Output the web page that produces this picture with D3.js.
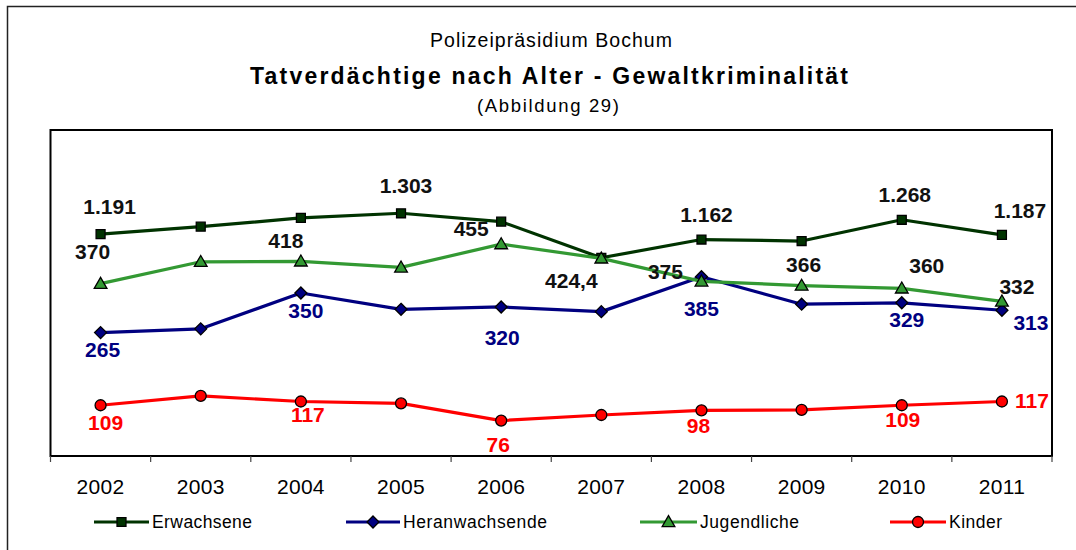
<!DOCTYPE html>
<html>
<head>
<meta charset="utf-8">
<script src="https://cdn.jsdelivr.net/npm/d3@7"></script>
<style>
  body { margin: 0; background: #fff; }
  svg { display: block; font-family: "Liberation Sans", Arial, sans-serif; }
</style>
</head>
<body>
<svg id="chart" width="1076" height="550"></svg>
<script>
// data
const years = ['2002', '2003', '2004', '2005', '2006', '2007', '2008', '2009', '2010', '2011'];
const erwachsene = [1191, 1231, 1278, 1303, 1258, 1064, 1162, 1154, 1268, 1187];
const heranwachsende = [265, 273, 350, 315, 320, 310, 385, 326, 329, 313];
const jugendliche = [370, 417, 418, 405, 455, 424.4, 375, 366, 360, 332];
const kinder = [109, 129, 117, 113, 76, 88, 98, 99, 109, 117];
// which points carry a value label
const erwShown = [0, 3, 6, 8, 9];
const herShown = [0, 2, 4, 6, 8, 9];
const jugShown = [0, 2, 4, 5, 6, 7, 8, 9];
const kinShown = [0, 2, 4, 6, 8, 9];
const seriesNames = ['Erwachsene', 'Heranwachsende', 'Jugendliche', 'Kinder'];

const de = d3.formatLocale({decimal: ',', thousands: '.', grouping: [3], currency: ['', ' €']});
const fmt = de.format(',');

const svg = d3.select('#chart');

// outer frame (right/bottom run off the picture)
svg.append('rect')
    .attr('x', 7.5).attr('y', 6.5)
    .attr('width', 1100).attr('height', 600)
    .attr('fill', 'none').attr('stroke', '#222').attr('stroke-width', 1.5);

// titles
svg.append('text').attr('x', 551).attr('y', 47)
    .attr('text-anchor', 'middle').attr('font-size', 19.5)
    .attr('textLength', 242).attr('lengthAdjust', 'spacing')
    .text('Polizeipräsidium Bochum');
svg.append('text').attr('x', 549).attr('y', 84)
    .attr('text-anchor', 'middle').attr('font-size', 23).attr('font-weight', 'bold')
    .attr('textLength', 598).attr('lengthAdjust', 'spacing')
    .text('Tatverdächtige nach Alter - Gewaltkriminalität');
svg.append('text').attr('x', 548).attr('y', 112)
    .attr('text-anchor', 'middle').attr('font-size', 18.5)
    .attr('textLength', 142).attr('lengthAdjust', 'spacing')
    .text('(Abbildung 29)');

const plotLeft = 50.5, plotRight = 1052, plotTop = 130, plotBottom = 456;

const x = d3.scaleBand().domain(years).range([plotLeft, plotRight]).padding(0);
const cx = d => x(d) + x.bandwidth() / 2;
const y = d3.scaleLinear().domain([0, 700]).range([plotBottom, plotTop]);
const y2 = d3.scaleLinear().domain([0, 1750]).range([plotBottom, plotTop]);

// plot frame
svg.append('rect')
    .attr('x', plotLeft).attr('y', plotTop)
    .attr('width', plotRight - plotLeft).attr('height', plotBottom - plotTop)
    .attr('fill', 'none').attr('stroke', '#000').attr('stroke-width', 2);

// category ticks at band edges
const edges = years.map(d => x(d)).concat([plotRight]);
svg.append('g').selectAll('line')
    .data(edges)
    .join('line')
    .attr('x1', d => d).attr('x2', d => d)
    .attr('y1', plotBottom).attr('y2', plotBottom + 6)
    .attr('stroke', '#444').attr('stroke-width', 1.2);

const xAxis = d3.axisBottom(x).tickSize(0).tickPadding(0);
const gx = svg.append('g')
    .attr('transform', `translate(0, ${plotBottom})`)
    .call(xAxis);
gx.select('.domain').remove();
gx.selectAll('text')
    .attr('font-size', 21).attr('fill', '#000')
    .attr('font-family', '"Liberation Sans", Arial, sans-serif')
    .attr('letter-spacing', 0.3)
    .attr('dy', 0).attr('y', 38);

// series definitions
const series = [
  {name: seriesNames[0], values: erwachsene, scale: y2, color: '#003300', marker: 'square', fill: '#003300', labelColor: '#111', shown: erwShown,
   offs: [[9, -20], null, null, [5, -20], null, null, [5, -18], null, [3, -18], [18, -17]]},
  {name: seriesNames[1], values: heranwachsende, scale: y, color: '#000080', marker: 'diamond', fill: '#000080', labelColor: '#000080', shown: herShown,
   offs: [[2, 24], null, [5, 25], null, [1, 38], null, [0, 39], null, [5, 24], [29, 20]]},
  {name: seriesNames[2], values: jugendliche, scale: y, color: '#339933', marker: 'triangle', fill: '#339933', labelColor: '#111', shown: jugShown,
   offs: [[-8, -25], null, [-15, -13], null, [-30, -8], [-30, 30], [-36, -2], [2, -14], [25, -15], [15, -7]]},
  {name: seriesNames[3], values: kinder, scale: y, color: '#ff0000', marker: 'circle', fill: '#ff0000', labelColor: '#ff0000', shown: kinShown,
   offs: [[5, 25], null, [7, 20], null, [-3, 31], null, [-3, 23], null, [1, 22], [30, 6]]}
];

const symbolPath = {
  square: d3.symbol(d3.symbolSquare, 80)(),
  diamond: 'M0,-6L6,0L0,6L-6,0Z',
  triangle: d3.symbol(d3.symbolTriangle, 70)(),
  circle: d3.symbol(d3.symbolCircle, 95)()
};

series.forEach(s => {
  const g = svg.append('g');
  const line = d3.line()
      .x((d, i) => cx(years[i]))
      .y(d => s.scale(d));
  g.append('path')
      .attr('d', line(s.values))
      .attr('fill', 'none')
      .attr('stroke', s.color)
      .attr('stroke-width', 3.2)
      .attr('stroke-linejoin', 'round');
  g.selectAll('path.m')
      .data(s.values)
      .join('path')
      .attr('class', 'm')
      .attr('d', symbolPath[s.marker])
      .attr('transform', (d, i) => `translate(${cx(years[i])}, ${s.scale(d) + (s.marker === 'triangle' ? 1 : 0)})`)
      .attr('fill', s.fill)
      .attr('stroke', '#000')
      .attr('stroke-width', 1.3);
});

// value labels on top
series.forEach(s => {
  svg.append('g').selectAll('text')
      .data(s.shown)
      .join('text')
      .attr('x', i => cx(years[i]) + s.offs[i][0])
      .attr('y', i => s.scale(s.values[i]) + s.offs[i][1])
      .attr('text-anchor', 'middle')
      .attr('font-size', 21)
      .attr('font-weight', 'bold')
      .attr('fill', s.labelColor)
      .text(i => fmt(s.values[i]));
});

// legend
const legendX = [94, 346, 640, 890];
const legendLen = [55, 54, 57, 56];
const legendTextW = [100, 144, 99, 53];
const legY = 522;
series.forEach((s, k) => {
  const g = svg.append('g').attr('transform', `translate(${legendX[k]}, ${legY})`);
  g.append('line')
      .attr('x1', 0).attr('x2', legendLen[k])
      .attr('y1', 0).attr('y2', 0)
      .attr('stroke', s.color).attr('stroke-width', 3.2);
  g.append('path')
      .attr('d', symbolPath[s.marker])
      .attr('transform', `translate(${legendLen[k] / 2}, ${s.marker === 'triangle' ? 1 : 0})`)
      .attr('fill', s.fill).attr('stroke', '#000').attr('stroke-width', 1.3);
  g.append('text')
      .attr('x', legendLen[k] + 3).attr('y', 6)
      .attr('font-size', 17.5)
      .attr('textLength', legendTextW[k]).attr('lengthAdjust', 'spacing')
      .text(s.name);
});
</script>
</body>
</html>
